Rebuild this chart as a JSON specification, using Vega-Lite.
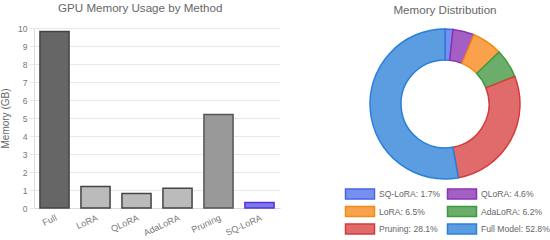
{
  "$schema": "https://vega.github.io/schema/vega-lite/v6.json",
  "padding": {"left": 0, "top": 3, "right": 0, "bottom": 0},
  "spacing": 63,
  "resolve": {"scale": {"fill": "independent", "stroke": "independent"}, "legend": {"fill": "independent", "stroke": "independent"}},
  "config": {
    "view": {"stroke": null},
    "font": "Liberation Sans",
    "title": {"fontSize": 11.6, "fontWeight": "normal", "color": "#666666", "offset": 9},
    "axis": {"labelFont": "Liberation Sans", "titleFont": "Liberation Sans", "labelColor": "#777777", "titleColor": "#666666", "labelFontSize": 8.6, "titleFontSize": 10, "titleFontWeight": "normal", "gridColor": "#e8e8e8", "domainColor": "#dcdcdc", "tickColor": "#e8e8e8"}
  },
  "hconcat": [
    {
      "title": {"text": "GPU Memory Usage by Method", "frame": "bounds", "anchor": "middle"},
      "width": 246,
      "height": 180,
      "data": {"values": [
        {"method": "Full", "memory": 9.8},
        {"method": "LoRA", "memory": 1.2},
        {"method": "QLoRA", "memory": 0.8},
        {"method": "AdaLoRA", "memory": 1.1},
        {"method": "Pruning", "memory": 5.2},
        {"method": "SQ-LoRA", "memory": 0.3}
      ]},
      "mark": {"type": "bar", "strokeWidth": 1.5},
      "encoding": {
        "x": {"field": "method", "type": "nominal", "sort": null,
          "scale": {"paddingInner": 0.29, "paddingOuter": 0.145},
          "axis": {"title": null, "labelAngle": -25, "grid": false, "ticks": false, "labelPadding": 5, "labelFontSize": 9, "domainColor": "#dcdcdc"}},
        "y": {"field": "memory", "type": "quantitative",
          "scale": {"domain": [0, 10]},
          "axis": {"title": "Memory (GB)", "values": [0,1,2,3,4,5,6,7,8,9,10], "grid": true, "tickSize": 5, "labelPadding": 2, "titlePadding": 7}},
        "fill": {"field": "method", "type": "nominal",
          "scale": {"domain": ["Full","LoRA","QLoRA","AdaLoRA","Pruning","SQ-LoRA"], "range": ["#666666","#bbbbbb","#bbbbbb","#bbbbbb","#999999","#7b7bee"]},
          "legend": null},
        "stroke": {"field": "method", "type": "nominal",
          "scale": {"domain": ["Full","LoRA","QLoRA","AdaLoRA","Pruning","SQ-LoRA"], "range": ["#444444","#444444","#444444","#444444","#555555","#5a32d8"]},
          "legend": null}
      }
    },
    {
      "title": {"text": "Memory Distribution"},
      "width": 204,
      "height": 152,
      "data": {"values": [
        {"idx": 1, "label": "SQ-LoRA: 1.7%", "pct": 1.7},
        {"idx": 2, "label": "QLoRA: 4.6%", "pct": 4.6},
        {"idx": 3, "label": "LoRA: 6.5%", "pct": 6.5},
        {"idx": 4, "label": "AdaLoRA: 6.2%", "pct": 6.2},
        {"idx": 5, "label": "Pruning: 28.1%", "pct": 28.1},
        {"idx": 6, "label": "Full Model: 52.8%", "pct": 52.8}
      ]},
      "mark": {"type": "arc", "outerRadius": 75, "innerRadius": 44, "strokeWidth": 1.5},
      "encoding": {
        "theta": {"field": "pct", "type": "quantitative", "stack": true},
        "order": {"field": "idx", "type": "quantitative"},
        "fill": {"field": "label", "type": "nominal",
          "scale": {"domain": ["SQ-LoRA: 1.7%","QLoRA: 4.6%","LoRA: 6.5%","AdaLoRA: 6.2%","Pruning: 28.1%","Full Model: 52.8%"],
                    "range": ["#7590f0","#a45fc4","#f9a24b","#6bad6b","#e06b6b","#5b9de0"]},
          "legend": {"title": null, "orient": "none", "direction": "horizontal", "legendX": 9, "legendY": 158, "columns": 2, "symbolType": "M-2,-0.68h4v1.36h-4z", "symbolSize": 210, "symbolStrokeWidth": 1.5, "labelFontSize": 8.6, "labelColor": "#666666", "labelFont": "Liberation Sans", "columnPadding": 3, "rowPadding": 1.5, "labelOffset": 11}},
        "stroke": {"field": "label", "type": "nominal",
          "scale": {"domain": ["SQ-LoRA: 1.7%","QLoRA: 4.6%","LoRA: 6.5%","AdaLoRA: 6.2%","Pruning: 28.1%","Full Model: 52.8%"],
                    "range": ["#4a62e6","#8a32b2","#f38a15","#3d9a3d","#d63a3a","#2a7fd8"]},
          "legend": {"title": null, "orient": "none", "direction": "horizontal", "legendX": 9, "legendY": 158, "columns": 2, "symbolType": "M-2,-0.68h4v1.36h-4z", "symbolSize": 210, "symbolStrokeWidth": 1.5, "labelFontSize": 8.6, "labelColor": "#666666", "labelFont": "Liberation Sans", "columnPadding": 3, "rowPadding": 1.5, "labelOffset": 11}}
      }
    }
  ]
}
